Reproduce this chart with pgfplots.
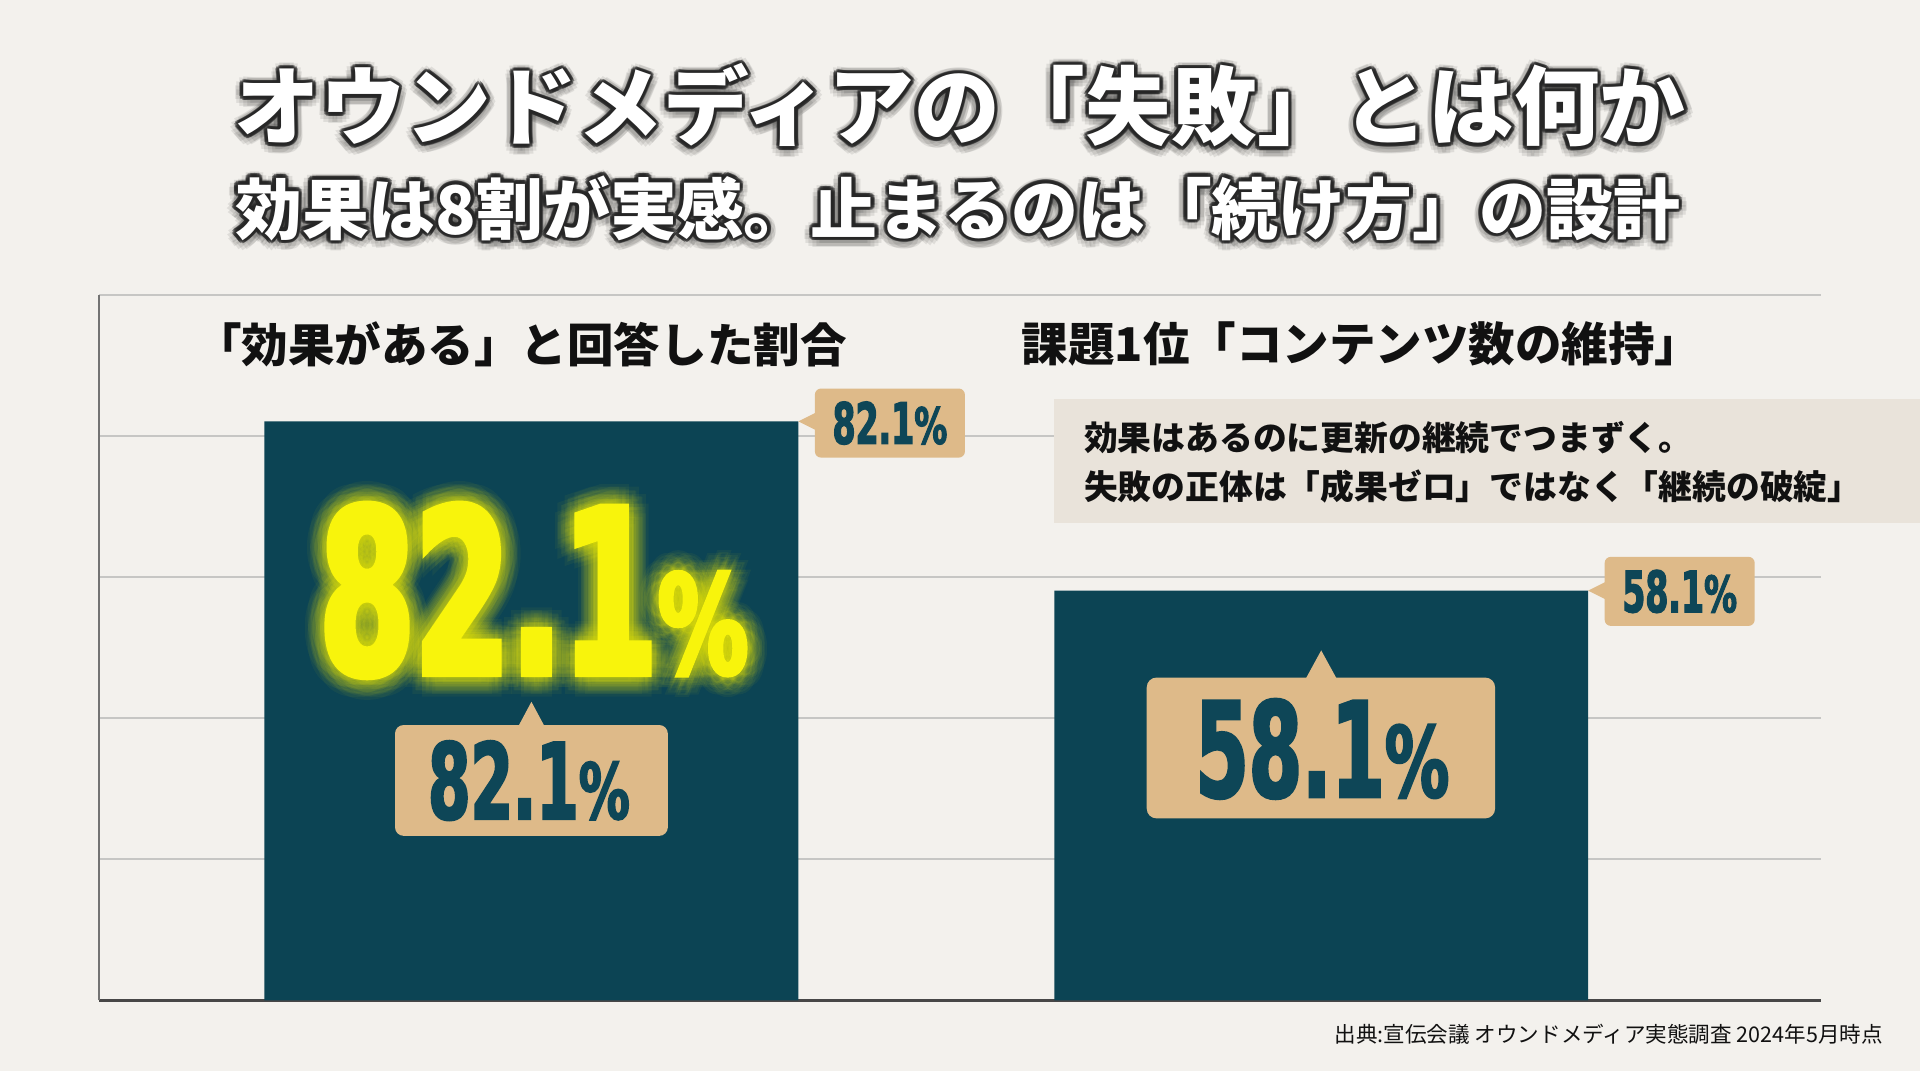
\documentclass[border=0pt]{standalone}
\usepackage{fontspec}
\usepackage{pgfplots}
\pgfplotsset{compat=1.18}
\setmainfont{Noto Sans CJK JP}
\newfontfamily\numf{DejaVu Sans}[FakeStretch=0.58,FakeBold=2]
\newfontfamily\pctf{DejaVu Sans}[FakeStretch=0.66,FakeBold=2]
\newfontfamily\numY{DejaVu Sans}[FakeStretch=0.6,FakeBold=3]
\newfontfamily\pctY{DejaVu Sans}[FakeStretch=0.66,FakeBold=3]

\definecolor{bg}{RGB}{243,241,237}
\definecolor{barteal}{RGB}{12,68,84}
\definecolor{tanc}{RGB}{222,186,137}
\definecolor{lblteal}{RGB}{14,70,87}
\definecolor{notebg}{RGB}{233,227,218}
\definecolor{gridc}{RGB}{198,198,196}
\definecolor{ylw}{RGB}{248,244,12}
\definecolor{shadowc}{RGB}{38,38,38}
\definecolor{headc}{RGB}{17,17,17}

% #1 number font, #2 percent font, #3 size, #4 percent size, #5 digits
\newcommand\pnum[5]{{#1\bfseries\fontsize{#3}{#3}\selectfont #5#2\bfseries\fontsize{#4}{#4}\selectfont\%}}

\newcommand\titletext[4]{%
  \foreach \a in {0,30,...,330}{%
    \node[inner sep=0pt,text=shadowc,opacity=0.10,xshift={3.4*cos(\a)*1pt},yshift={3.4*sin(\a)*1pt-1pt}] at (#1,#2) {\fontsize{#3}{#3}\selectfont\bfseries #4};}
  \foreach \a in {0,22.5,...,337.5}{%
    \node[inner sep=0pt,text=shadowc,opacity=0.5,xshift={1.5*cos(\a)*1pt},yshift={1.5*sin(\a)*1pt}] at (#1,#2) {\fontsize{#3}{#3}\selectfont\bfseries #4};}
  \node[inner sep=0pt,text=white] at (#1,#2) {\fontsize{#3}{#3}\selectfont\bfseries #4};
}

\begin{document}
\begin{tikzpicture}
\fill[bg] (0,0) rectangle (784pt,437.5pt);
\useasboundingbox (0,0) rectangle (784pt,437.5pt);

\begin{axis}[
  at={(40.5pt,29pt)}, anchor=south west,
  width=703pt, height=288pt, scale only axis,
  xmin=-0.5473, xmax=1.6326, ymin=0, ymax=100,
  axis x line*=bottom, axis y line*=left,
  ytick={0,20,40,60,80,100}, yticklabels={}, xtick=\empty,
  ymajorgrids, grid style={draw=gridc, line width=0.8pt},
  major tick length=0pt,
  x axis line style={-, draw=black!72, line width=1.1pt},
  y axis line style={-, draw=black!55, line width=0.9pt},
  ybar, bar width=218pt,
  clip=false,
]
\addplot[fill=barteal, draw=none] coordinates {(0,82.1) (1,58.1)};
\coordinate (b1) at (axis cs:0,82.1);
\coordinate (b2) at (axis cs:1,58.1);
\end{axis}

% titles
\titletext{392pt}{394.5pt}{35pt}{オウンドメディアの「失敗」とは何か}
\titletext{391pt}{352.5pt}{27.3pt}{効果は8割が実感。止まるのは「続け方」の設計}

% panel headings
\node[inner sep=0pt,anchor=west,text=headc] at (79.5pt,297pt) {\fontsize{19pt}{19pt}\selectfont\bfseries 「効果がある」と回答した割合};
\node[inner sep=0pt,anchor=west,text=headc] at (417pt,297pt) {\fontsize{19pt}{19pt}\selectfont\bfseries 課題1位「コンテンツ数の維持」};

% note box
\fill[notebg] (430.5pt,224pt) rectangle (784pt,274.5pt);
\node[inner sep=0pt,anchor=west,text=headc] at (442.5pt,259pt) {\fontsize{13.8pt}{13.8pt}\selectfont\bfseries 効果はあるのに更新の継続でつまずく。};
\node[inner sep=0pt,anchor=west,text=headc] at (442.5pt,239pt) {\fontsize{13.8pt}{13.8pt}\selectfont\bfseries 失敗の正体は「成果ゼロ」ではなく「継続の破綻」};

% small callouts at bar tops
\fill[tanc, rounded corners=2.5pt] ([xshift=115.75pt,yshift=-14.8pt]b1) rectangle ([xshift=177pt,yshift=13.4pt]b1);
\fill[tanc] ([xshift=109pt]b1) -- ([xshift=116.5pt,yshift=3.75pt]b1) -- ([xshift=116.5pt,yshift=-3.75pt]b1) -- cycle;
\node[inner sep=0pt,anchor=base,text=lblteal] at ([xshift=146.4pt,yshift=-9.2pt]b1) {\pnum{\numf}{\pctf}{23.3pt}{20.5pt}{82.1}};

\fill[tanc, rounded corners=2.5pt] ([xshift=115.75pt,yshift=-14.4pt]b2) rectangle ([xshift=177pt,yshift=13.8pt]b2);
\fill[tanc] ([xshift=109pt]b2) -- ([xshift=116.5pt,yshift=3.75pt]b2) -- ([xshift=116.5pt,yshift=-3.75pt]b2) -- cycle;
\node[inner sep=0pt,anchor=base,text=lblteal] at ([xshift=146.4pt,yshift=-8.8pt]b2) {\pnum{\numf}{\pctf}{23.3pt}{20.5pt}{58.1}};

% big glowing number on bar 1
\foreach \r in {2,4,6,8}{%
  \foreach \a in {0,30,...,330}{%
    \node[inner sep=0pt,anchor=base,text=ylw,opacity=0.045,xshift={(1+\r*cos(\a))*1pt},yshift={(-103+\r*sin(\a))*1pt}] at (b1) {\pnum{\numY}{\pctY}{93.3pt}{56pt}{82.1}};}}
\node[inner sep=0pt,anchor=base,text=ylw,xshift=1pt,yshift=-103pt] at (b1) {\pnum{\numY}{\pctY}{93.3pt}{56pt}{82.1}};

% lower callout bar 1
\fill[tanc, rounded corners=3.5pt] ([xshift=-55.7pt,yshift=-169.25pt]b1) rectangle ([xshift=55.7pt,yshift=-124pt]b1);
\fill[tanc] ([yshift=-114.5pt]b1) -- ([xshift=5.5pt,yshift=-124.8pt]b1) -- ([xshift=-5.5pt,yshift=-124.8pt]b1) -- cycle;
\node[inner sep=0pt,anchor=base,text=lblteal] at ([xshift=-1pt,yshift=-162.35pt]b1) {\pnum{\numf}{\pctf}{43pt}{31.6pt}{82.1}};

% callout bar 2
\fill[tanc, rounded corners=4pt] ([xshift=-71.25pt,yshift=-93pt]b2) rectangle ([xshift=71pt,yshift=-35.5pt]b2);
\fill[tanc] ([yshift=-24.4pt]b2) -- ([xshift=6.5pt,yshift=-36.3pt]b2) -- ([xshift=-6.5pt,yshift=-36.3pt]b2) -- cycle;
\node[inner sep=0pt,anchor=base,text=lblteal] at ([xshift=0.5pt,yshift=-84.3pt]b2) {\pnum{\numf}{\pctf}{54pt}{40pt}{58.1}};

% source
\node[inner sep=0pt,anchor=east,text=headc] at (769pt,15pt) {\fontsize{8.8pt}{8.8pt}\selectfont 出典:宣伝会議 オウンドメディア実態調査 2024年5月時点};
\end{tikzpicture}
\end{document}
